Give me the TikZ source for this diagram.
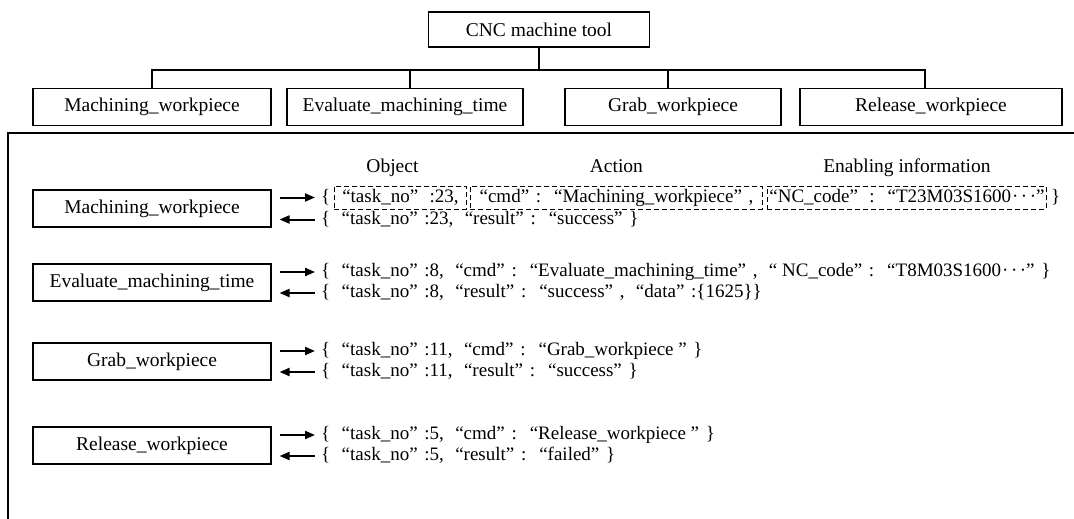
\documentclass[tikz,border=0pt]{standalone}
\usepackage{fontspec}
\setmainfont{Liberation Serif}
\usetikzlibrary{arrows.meta,positioning}
% wide quotation marks, padded on their outer side
\newcommand\opq{\hspace{0.35em}“}
\newcommand\clq{”\hspace{0.35em}}
\newcommand\mdots{\hspace{1pt}·\hspace{2.5pt}·\hspace{2.5pt}·}
\begin{document}
\begin{tikzpicture}[x=1pt,y=-1pt,
  box/.style={draw,line width=1.1pt,minimum width=238pt,minimum height=37pt,inner sep=0pt,
    font=\fontsize{19.5}{23}\selectfont},
  json/.style={anchor=west,inner sep=0pt,text height=13.5pt,text depth=4pt,
    font=\fontsize{19}{23}\selectfont},
  dbox/.style={json,draw,dash pattern=on 5pt off 3pt,line width=0.9pt,
    minimum height=23pt,inner xsep=1pt,inner ysep=0pt},
  head/.style={anchor=base,inner sep=0pt,font=\fontsize{19.5}{23}\selectfont},
  link/.style={line width=2pt},
  msg/.style={line width=2pt,-{Triangle[length=10pt,width=8pt]}}]
\useasboundingbox (0,0) rectangle (1074,519);

% ---- functional tree of the machine tool ----
\node[box,minimum width=221pt,minimum height=35pt] (cnc) at (539,29.5) {CNC machine tool};
\node[box] (t1) at (152,107) {Machining\_workpiece};
\node[box,minimum width=236pt] (t2) at (405,107) {Evaluate\_machining\_time};
\node[box,minimum width=216pt] (t3) at (673,107) {Grab\_workpiece};
\node[box,minimum width=262pt] (t4) at (931,107) {Release\_workpiece};
\coordinate (bus) at (539,70);
\draw[link] (cnc.south) -- (bus);
\draw[link] (t1.north) -- (t1.north |- bus)
  -- ([xshift=-6pt]t4.north |- bus) -- ([xshift=-6pt]t4.north);
\draw[link] ([xshift=5pt]t2.north) -- ([xshift=5pt]t2.north |- bus);
\draw[link] ([xshift=-5pt]t3.north) -- ([xshift=-5pt]t3.north |- bus);

% ---- frame of the message section ----
\coordinate (fb) at (8,519);
\coordinate (fc) at (8,133);
\coordinate (fr) at (1074,133);
\draw[line width=2pt] (fb) -- (fc) -- (fr);

% ---- service boxes ----
\node[box] (m1) at (152,208.5) {Machining\_workpiece};
\node[box] (m2) at (152,282.5) {Evaluate\_machining\_time};
\node[box] (m3) at (152,361.5) {Grab\_workpiece};
\node[box] (m4) at (152,445.5) {Release\_workpiece};

% ---- row 1: request split into object / action / enabling information ----
\node[json] (o1) at (321,197.5) {\{};
\node[dbox,minimum width=132pt] (obj) at (334,197.5) {“task\_no\clq\ :23,};
\node[dbox,minimum width=292pt] (act) at (470,197.5) {“cmd\clq: \opq Machining\_workpiece\clq,};
\node[dbox,minimum width=279pt] (ena) at (767,197.5) {“NC\_code\clq\ : \opq T23M03S1600\mdots\clq};
\node[json,right=4pt of ena] (c1) {\}};
\node[head] (hobj) at ([xshift=-8pt]obj.north |- 0,172) {Object};
\node[head] (hact) at (act.north |- 0,172) {Action};
\node[head] (hena) at (ena.north |- 0,172) {Enabling information};
\node[json] (i1) at (321,219.5) {\{ \opq task\_no\clq:23, \opq result\clq: \opq success\clq\}};

% ---- rows 2-4 ----
\node[json] (o2) at (321,272) {\{ \opq task\_no\clq:8, \opq cmd\clq: \opq Evaluate\_machining\_time\clq, \opq\ NC\_code\clq: \opq T8M03S1600\mdots\clq\}};
\node[json] (i2) at (321,293) {\{ \opq task\_no\clq:8, \opq result\clq: \opq success\clq, \opq data\clq:\{1625\}\}};
\node[json] (o3) at (321,351) {\{ \opq task\_no\clq:11, \opq cmd\clq: \opq Grab\_workpiece \clq\}};
\node[json] (i3) at (321,372) {\{ \opq task\_no\clq:11, \opq result\clq: \opq success\clq\}};
\node[json] (o4) at (321,435) {\{ \opq task\_no\clq:5, \opq cmd\clq: \opq Release\_workpiece \clq\}};
\node[json] (i4) at (321,456) {\{ \opq task\_no\clq:5, \opq result\clq: \opq failed\clq\}};

% ---- request / response arrows ----
\foreach \k in {1,2,3,4}{
  \draw[msg] ([xshift=8pt]m\k.east |- o\k.west) -- ([xshift=-6pt]o\k.west);
  \draw[msg] ([xshift=-6pt]i\k.west) -- ([xshift=8pt]m\k.east |- i\k.west);
}
\end{tikzpicture}
\end{document}
